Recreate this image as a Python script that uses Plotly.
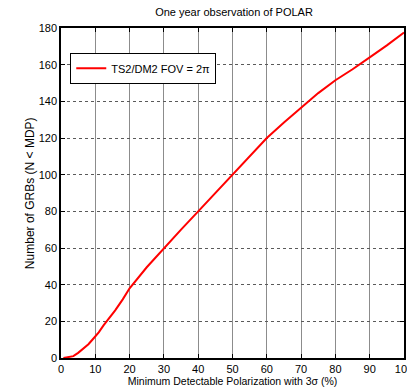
import plotly.graph_objects as go

mdp = [0.7, 2, 3.6, 5, 6.5, 8, 9.4, 11, 12.4, 14, 15.8, 18, 20, 25, 30, 35, 40,
       45, 50, 55, 60, 65, 70, 75, 80, 85, 90, 95, 100]
n_grbs = [0, 0.5, 1, 2.8, 5, 7.5, 10.5, 14, 17.8, 21.5, 26, 32, 38, 49.5, 60, 70, 80,
          90, 100, 110, 120, 128.5, 136.5, 144.5, 151.5, 157.5, 164, 170.5, 177.5]
series_name = "TS2/DM2 FOV = 2π"
x_ticks = [0, 10, 20, 30, 40, 50, 60, 70, 80, 90, 100]
y_ticks = [0, 20, 40, 60, 80, 100, 120, 140, 160, 180]

fig = go.Figure()
fig.add_trace(go.Scatter(x=mdp, y=n_grbs, mode="lines", name=series_name,
                         line=dict(color="#ff0000", width=2)))

font = "Liberation Sans, Arial, sans-serif"
axis_common = dict(showline=True, linecolor="black", linewidth=1.5, mirror="allticks",
                   ticks="inside", ticklen=4, tickcolor="black", zeroline=False,
                   ticklabeloverflow="allow", automargin=False,
                   tickfont=dict(family=font, size=11, color="black"))
fig.update_xaxes(range=[0, 100], tickvals=x_ticks, showgrid=True,
                 gridcolor="rgb(140,140,140)", gridwidth=1,
                 title=dict(text="Minimum Detectable Polarization with 3σ (%)",
                            font=dict(family=font, size=10.5, color="black"), standoff=4),
                 **axis_common)
fig.update_yaxes(range=[0, 180], tickvals=y_ticks, showgrid=True,
                 gridcolor="rgb(90,90,90)", gridwidth=1, griddash="dot",
                 **axis_common)
fig.update_layout(
    width=407, height=389,
    margin=dict(l=61, r=3, t=28, b=31),
    paper_bgcolor="white", plot_bgcolor="white",
    title=dict(text="One year observation of POLAR", x=0.575, xanchor="center",
               y=0.97, yanchor="middle",
               font=dict(family=font, size=11, color="black")),
    showlegend=True,
    legend=dict(x=0.027, y=0.925, xanchor="left", yanchor="top",
                bgcolor="white", bordercolor="black", borderwidth=1,
                font=dict(family=font, size=11, color="black")),
    annotations=[dict(text="Number of GRBs (N < MDP)", textangle=-90,
                      xref="paper", yref="paper", x=-0.09, y=0.5,
                      xanchor="center", yanchor="middle", showarrow=False,
                      font=dict(family=font, size=12, color="black"))],
)
fig.write_html("out.html")
